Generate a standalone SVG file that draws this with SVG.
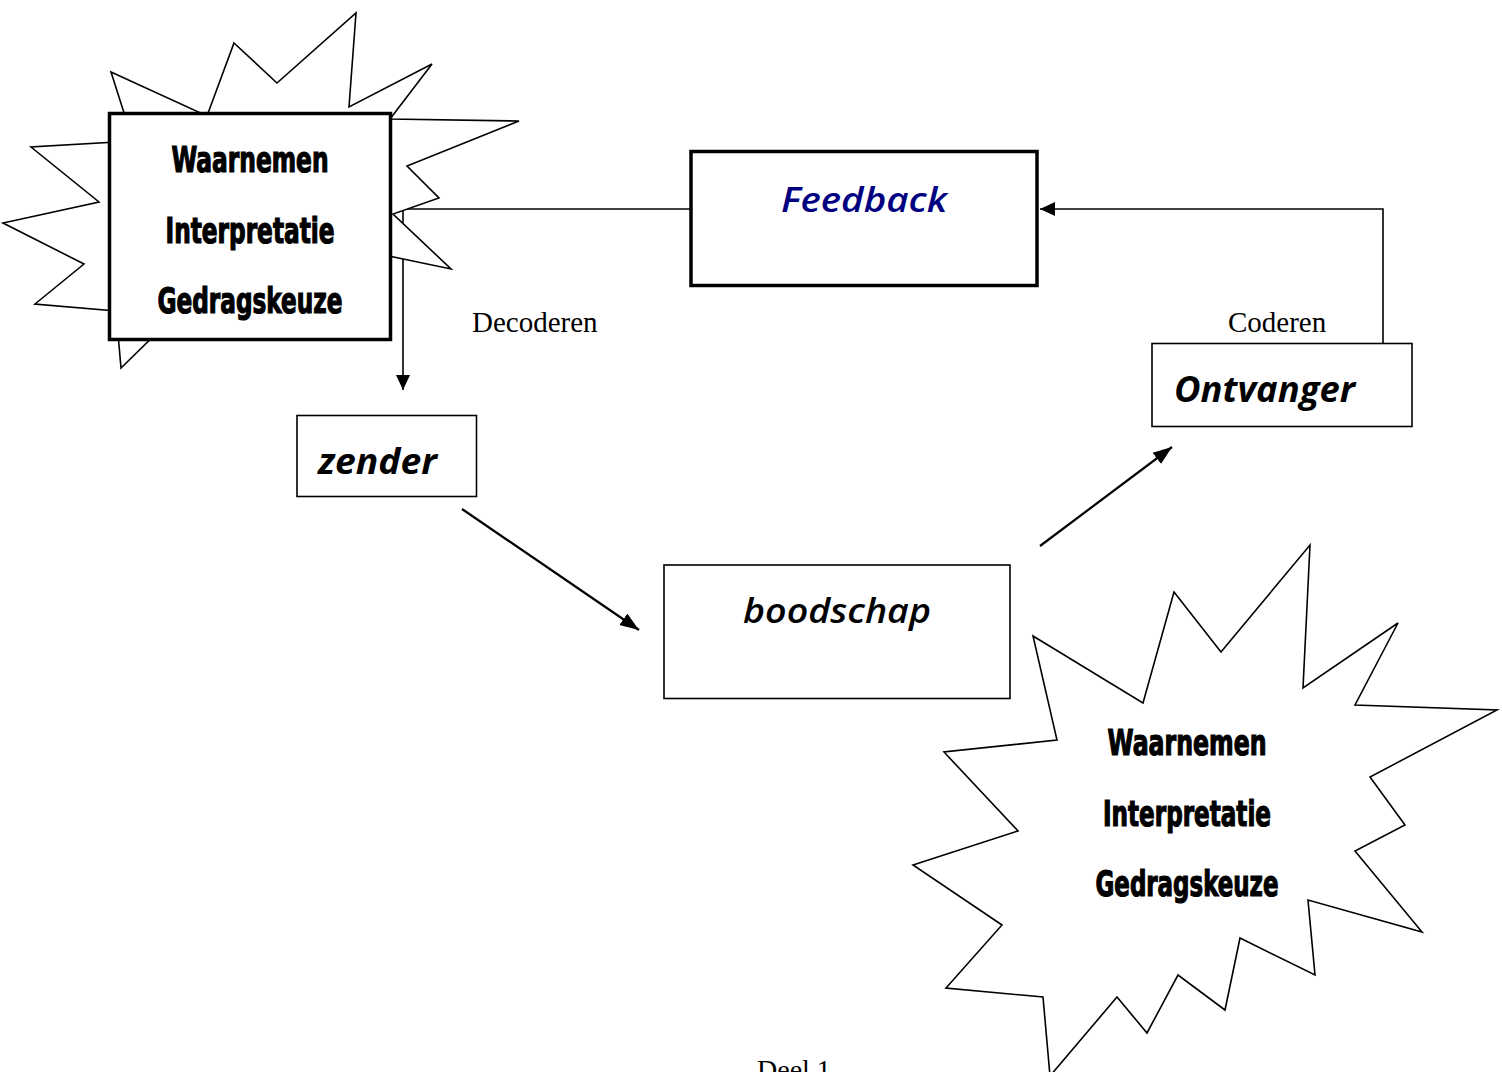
<svg xmlns="http://www.w3.org/2000/svg" width="1502" height="1072" viewBox="0 0 1502 1072">
<style>
  .bg { fill: #ffffff; }
  .star { fill: #ffffff; stroke: #000000; stroke-width: 1.6; stroke-linejoin: miter; }
  .boxthick { fill: #ffffff; stroke: #000000; stroke-width: 3.5; }
  .boxthin { fill: #ffffff; stroke: #000000; stroke-width: 1.6; }
  .conn { fill: none; stroke: #000000; stroke-width: 1.6; }
  .conn2 { fill: none; stroke: #000000; stroke-width: 2.2; }
  .imp { font-family: "Liberation Sans Narrow", "DejaVu Sans Condensed", "Liberation Sans", sans-serif; font-weight: bold; font-size: 36px; text-anchor: middle; fill: #000000; stroke: #000000; stroke-width: 1.2; }
  .lab { font-family: "Open Sans", "DejaVu Sans", sans-serif; font-style: italic; font-size: 35px; fill: #000000; }
  .serif { font-family: "Liberation Serif", "Times New Roman", serif; font-size: 29px; fill: #000000; }
</style>
<defs>
  <marker id="ah" markerUnits="userSpaceOnUse" markerWidth="16" markerHeight="16" refX="15" refY="8" orient="auto">
    <path d="M0,1 L15,8 L0,15 z" fill="#000000"/>
  </marker>
  <marker id="ah2" markerUnits="userSpaceOnUse" markerWidth="20" markerHeight="16" refX="19" refY="8" orient="auto">
    <path d="M0,1 L19,8 L0,15 z" fill="#000000"/>
  </marker>
</defs>
<rect class="bg" x="0" y="0" width="1502" height="1072"/>

<g id="connectors">
  <path class="conn" d="M1383,343 V209 H1040" marker-end="url(#ah)"/>
  <path class="conn" d="M691,209 H403 V390" marker-end="url(#ah)"/>
  <path class="conn2" d="M462,509 L639,630" marker-end="url(#ah2)"/>
  <path class="conn2" d="M1040,546 L1172,447" marker-end="url(#ah2)"/>
</g>

<g id="sender-mind">
  <polygon class="star" points="234,43 277,83 356,13 349,107 432,64 390,119 519,121 407,166 439,198 393,214 451,269 360,250 165,325 121,368 116,311 35,304 84,264 3,223 99,202 31,147 133,141 111,72 207,116"/>
  <rect class="boxthick" x="109.5" y="113.5" width="281" height="226"/>
  <text class="imp" x="250" y="172" textLength="157" lengthAdjust="spacingAndGlyphs">Waarnemen</text>
  <text class="imp" x="250" y="243" textLength="169" lengthAdjust="spacingAndGlyphs">Interpretatie</text>
  <text class="imp" x="250" y="313" textLength="185" lengthAdjust="spacingAndGlyphs">Gedragskeuze</text>
</g>

<g id="feedback">
  <rect class="boxthick" x="691" y="151.5" width="346" height="134"/>
  <text class="lab" x="781" y="212" fill="#000080" style="fill:#000080;font-weight:600" textLength="166" lengthAdjust="spacingAndGlyphs">Feedback</text>
</g>

<g id="decoderen">
  <text class="serif" x="472" y="332">Decoderen</text>
</g>

<g id="coderen">
  <text class="serif" x="1228" y="332">Coderen</text>
</g>

<g id="zender">
  <rect class="boxthin" x="297" y="415.5" width="179.5" height="81"/>
  <text class="lab" x="318" y="474" style="font-weight:700" textLength="119" lengthAdjust="spacingAndGlyphs">zender</text>
</g>

<g id="ontvanger">
  <rect class="boxthin" x="1152" y="343.5" width="260" height="83"/>
  <text class="lab" x="1174" y="402" style="font-weight:700" textLength="181" lengthAdjust="spacingAndGlyphs">Ontvanger</text>
</g>

<g id="boodschap">
  <rect class="boxthin" x="664" y="565" width="346" height="133.5"/>
  <text class="lab" x="743" y="623" style="font-weight:600" textLength="188" lengthAdjust="spacingAndGlyphs">boodschap</text>
</g>

<g id="receiver-mind">
  <polygon class="star" points="1310,545 1303,688 1398,623 1355,705 1497,710 1370,777 1405,825 1355,851 1422,932 1308,900 1315,975 1240,938 1225,1010 1178,975 1147,1033 1117,997 1050,1076 1043,997 946,988 1002,925 913,865 1018,831 944,752 1057,740 1033,636 1143,703 1174,592 1221,652"/>
  <text class="imp" x="1187" y="755" textLength="159" lengthAdjust="spacingAndGlyphs">Waarnemen</text>
  <text class="imp" x="1187" y="826" textLength="168" lengthAdjust="spacingAndGlyphs">Interpretatie</text>
  <text class="imp" x="1187" y="896" textLength="183" lengthAdjust="spacingAndGlyphs">Gedragskeuze</text>
</g>

<g id="page-label">
  <text class="serif" x="757" y="1079" style="font-size:28px">Deel 1</text>
</g>
</svg>
